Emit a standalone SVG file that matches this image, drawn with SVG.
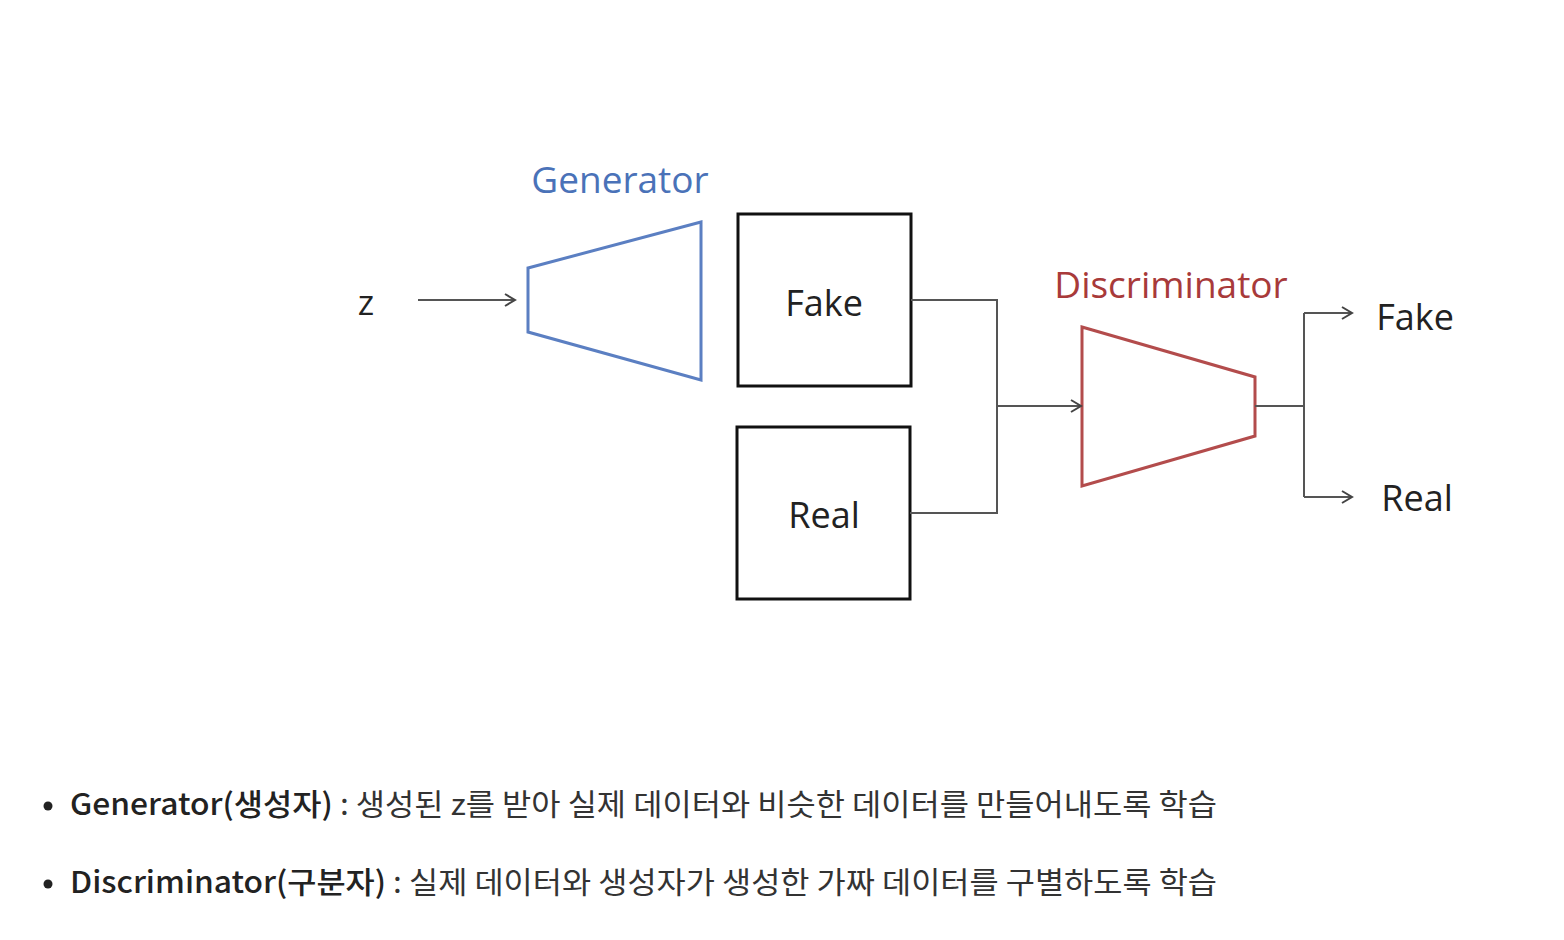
<svg xmlns="http://www.w3.org/2000/svg" width="1564" height="940" viewBox="0 0 1564 940">
<style>
.lbl{font-family:"Open Sans","Noto Sans",sans-serif;fill:#222}
.box{fill:#fff;stroke:#111;stroke-width:3}
.wire{fill:none;stroke:#555;stroke-width:2}
.desc{font-family:"Noto Sans CJK KR","Noto Sans",sans-serif;font-size:30px;fill:#333}
.bold{font-weight:500;fill:#222}
</style>
<defs>
<marker id="arr" markerWidth="14" markerHeight="14" refX="12" refY="7" orient="auto" markerUnits="userSpaceOnUse">
<path d="M2,1 L12,7 L2,13" fill="none" stroke="#444" stroke-width="2"/>
</marker>
</defs>
<rect width="1564" height="940" fill="#fff"/>
<g id="z"><text class="lbl" x="366" y="315" font-size="35" text-anchor="middle">z</text></g>
<g id="generator">
<polygon points="528,268 701,222 701,380 528,332" fill="#fff" stroke="#5b7fc2" stroke-width="3"/>
<text x="620" y="193" font-family="Open Sans,Noto Sans,sans-serif" font-size="37" fill="#4a72b8" text-anchor="middle">Generator</text>
</g>
<g id="fake-box"><rect class="box" x="738" y="214" width="173" height="172"/><text class="lbl" x="824" y="316" font-size="36" text-anchor="middle">Fake</text></g>
<g id="real-box"><rect class="box" x="737" y="427" width="173" height="172"/><text class="lbl" x="824" y="528" font-size="36" text-anchor="middle">Real</text></g>
<g id="discriminator">
<polygon points="1082,327 1255,377 1255,436 1082,486" fill="#fff" stroke="#b34c4c" stroke-width="3"/>
<text x="1171" y="298" font-family="Open Sans,Noto Sans,sans-serif" font-size="37" fill="#a83a3a" text-anchor="middle">Discriminator</text>
</g>
<g id="out-fake"><text class="lbl" x="1415" y="330" font-size="36" text-anchor="middle">Fake</text></g>
<g id="out-real"><text class="lbl" x="1417" y="511" font-size="36" text-anchor="middle">Real</text></g>
<g id="connectors">
<line class="wire" x1="418" y1="300" x2="515" y2="300" marker-end="url(#arr)"/>
<polyline class="wire" points="911,300 997,300 997,513 910,513"/>
<line class="wire" x1="997" y1="406" x2="1081" y2="406" marker-end="url(#arr)"/>
<line class="wire" x1="1255" y1="406" x2="1304" y2="406"/>
<line class="wire" x1="1304" y1="313" x2="1304" y2="497"/>
<line class="wire" x1="1304" y1="313" x2="1352" y2="313" marker-end="url(#arr)"/>
<line class="wire" x1="1304" y1="497" x2="1352" y2="497" marker-end="url(#arr)"/>
</g>
<g id="notes">
<circle cx="48" cy="806" r="4.5" fill="#222"/>
<text class="desc" x="70" y="815" textLength="1147" lengthAdjust="spacingAndGlyphs"><tspan class="bold">Generator(생성자)</tspan> : 생성된 z를 받아 실제 데이터와 비슷한 데이터를 만들어내도록 학습</text>
<circle cx="48" cy="884" r="4.5" fill="#222"/>
<text class="desc" x="70" y="893" textLength="1147" lengthAdjust="spacingAndGlyphs"><tspan class="bold">Discriminator(구분자)</tspan> : 실제 데이터와 생성자가 생성한 가짜 데이터를 구별하도록 학습</text>
</g>
</svg>
